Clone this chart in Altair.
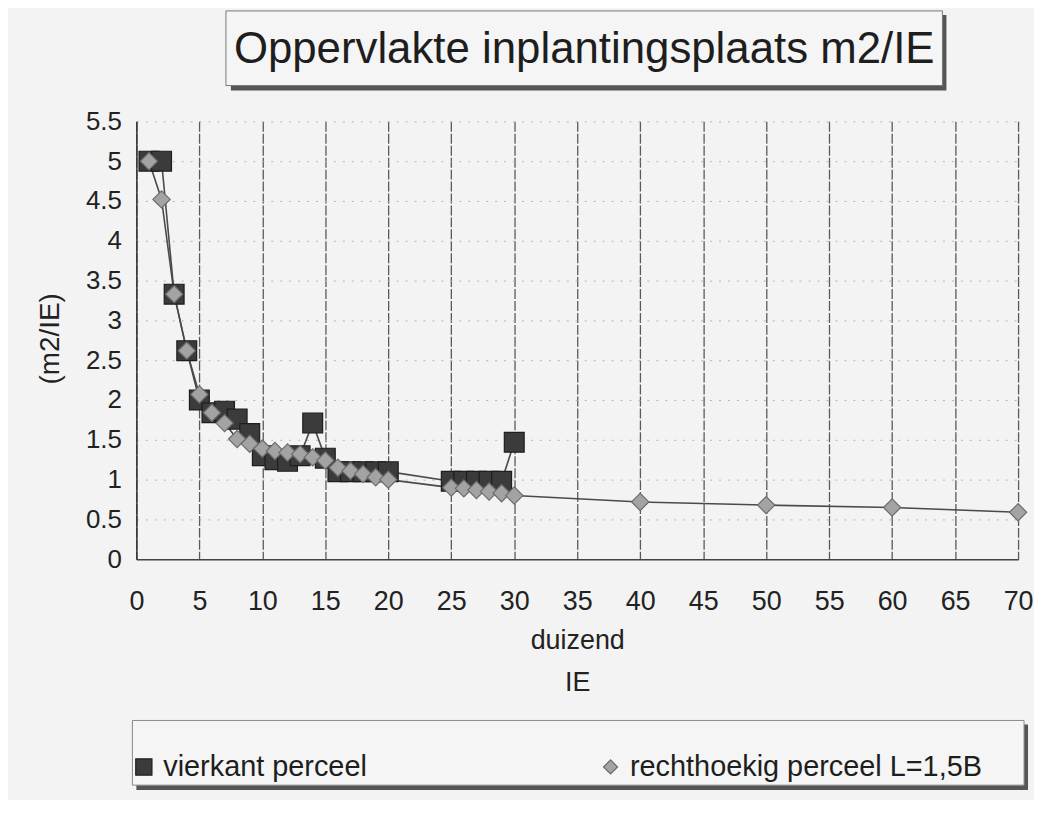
import altair as alt
import pandas as pd

# ---- data ----
x_vierkant = [1, 2, 3, 4, 5, 6, 7, 8, 9, 10, 11, 12, 13, 14, 15, 16, 17, 18, 19, 20,
              25, 26, 27, 28, 29, 30]
y_vierkant = [5.0, 5.0, 3.33, 2.62, 2.0, 1.84, 1.86, 1.76, 1.58, 1.3, 1.25, 1.23, 1.3, 1.71,
              1.27, 1.1, 1.1, 1.1, 1.1, 1.1, 0.98, 0.98, 0.98, 0.98, 0.98, 1.47]
x_recht = [1, 2, 3, 4, 5, 6, 7, 8, 9, 10, 11, 12, 13, 14, 15, 16, 17, 18, 19, 20,
           25, 26, 27, 28, 29, 30, 40, 50, 60, 70]
y_recht = [5.0, 4.52, 3.33, 2.62, 2.07, 1.84, 1.71, 1.51, 1.45, 1.39, 1.36, 1.34, 1.32, 1.28,
           1.24, 1.15, 1.11, 1.07, 1.03, 1.0, 0.9, 0.89, 0.87, 0.85, 0.83, 0.8,
           0.72, 0.68, 0.65, 0.59]
series_names = ["vierkant perceel", "rechthoekig perceel L=1,5B"]
x_ticks = list(range(0, 75, 5))
y_ticks = [0, 0.5, 1, 1.5, 2, 2.5, 3, 3.5, 4, 4.5, 5, 5.5]
chart_title = "Oppervlakte inplantingsplaats m2/IE"
x_title = ["duizend", "IE"]
y_title = "(m2/IE)"

rows = []
for i, (x, y) in enumerate(zip(x_vierkant, y_vierkant)):
    rows.append({"x": x, "y": y, "serie": series_names[0], "o": i})
for i, (x, y) in enumerate(zip(x_recht, y_recht)):
    rows.append({"x": x, "y": y, "serie": series_names[1], "o": 100 + i})
df = pd.DataFrame(rows)

FONT = "Liberation Sans, Arial, Helvetica, sans-serif"
W, H = 886, 440

xs = alt.Scale(domain=[0, 70], nice=False, zero=False)
ys = alt.Scale(domain=[0, 5.5], nice=False)

x_axis = alt.Axis(
    values=x_ticks, title=x_title, labelFontSize=27, titleFontSize=27,
    titleFontWeight="normal", titleLineHeight=42, titleY=69, titleBaseline="top",
    tickSize=0, labelPadding=30, labelColor="#222", titleColor="#222",
    grid=True, gridColor="#5a5a5a", gridWidth=1.3, gridDash=[10, 2],
    domainColor="#444", domainWidth=1.5, labelFlush=False, labelOverlap=False)
y_axis = alt.Axis(
    values=y_ticks, format=".1~f", title=y_title, labelFontSize=26, titleFontSize=28,
    titleFontWeight="normal", titleX=-86, titleY=218, titleAngle=270,
    titleBaseline="middle", titleAlign="center",
    tickSize=0, labelPadding=15, labelColor="#222", titleColor="#222",
    grid=True, gridColor="#b4b4b4", gridWidth=1, gridDash=[2, 7],
    domainColor="#333", domainWidth=1.5, labelOverlap=False, labelFlush=False)

x_enc = alt.X("x:Q", scale=xs, axis=x_axis)
y_enc = alt.Y("y:Q", scale=ys, axis=y_axis)

base = alt.Chart(df)

lines = base.mark_line(color="#4a4a4a", strokeWidth=1.6).encode(
    x=x_enc, y=y_enc, detail="serie:N", order="o:Q")

SQUARE = "M-1.15,-1.15H1.15V1.15H-1.15Z"
DIAMOND = "M-1,0L0,-1L1,0L0,1Z"

points = base.mark_point(filled=True, opacity=1, strokeWidth=1.2, size=300).encode(
    x=x_enc,
    y=y_enc,
    shape=alt.Shape("serie:N", scale=alt.Scale(domain=series_names, range=[SQUARE, DIAMOND]),
                    legend=alt.Legend(title=None)),
    fill=alt.Fill("serie:N", scale=alt.Scale(domain=series_names, range=["#3b3b3b", "#a3a3a3"]),
                  legend=alt.Legend(title=None)),
    stroke=alt.Stroke("serie:N", scale=alt.Scale(domain=series_names, range=["#1e1e1e", "#6c6c6c"]),
                      legend=alt.Legend(title=None)),
    order="o:Q",
)

one = alt.Data(values=[{"t": chart_title}])

# decorative frames (title box and legend box with shadow)
title_shadow = alt.Chart(one).mark_rect(fill="#555").encode(
    x=alt.value(95), x2=alt.value(814), y=alt.value(-107), y2=alt.value(-31))
title_box = alt.Chart(one).mark_rect(fill="#f5f5f5", stroke="#777", strokeWidth=1).encode(
    x=alt.value(90), x2=alt.value(810), y=alt.value(-111), y2=alt.value(-36))
title_text = alt.Chart(one).mark_text(fontSize=44, font=FONT, color="#1e1e1e",
                                      baseline="middle", align="center").encode(
    text="t:N", x=alt.value(450), y=alt.value(-72))

legend_shadow = alt.Chart(one).mark_rect(fill="#555").encode(
    x=alt.value(0), x2=alt.value(896), y=alt.value(606), y2=alt.value(672))
legend_box = alt.Chart(one).mark_rect(fill="#f5f5f5", stroke="#888", strokeWidth=1).encode(
    x=alt.value(-4), x2=alt.value(892), y=alt.value(602), y2=alt.value(667))

chart = alt.layer(
    title_shadow, title_box, title_text, legend_shadow, legend_box, lines, points
).properties(
    width=W, height=H,
    autosize=alt.AutoSizeParams(type="none"),
    padding={"left": 129, "top": 112, "right": 16, "bottom": 240},
    background="#f3f3f3",
).configure_view(
    stroke=None, fill=None
).configure_axis(
    labelFont=FONT, titleFont=FONT
).configure_legend(
    orient="none", legendX=-7, legendY=634, direction="horizontal", columns=2,
    columnPadding=230, labelFontSize=29, labelFont=FONT, labelColor="#1e1e1e",
    symbolSize=200, labelLimit=600, labelOffset=5, padding=0,
    symbolStrokeWidth=1.2, zindex=2,
)

chart.save("out.html", embed_options={"renderer": "svg", "actions": False})
